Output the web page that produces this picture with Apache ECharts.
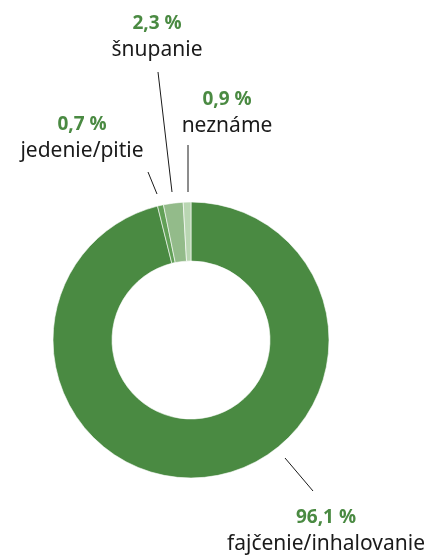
<!DOCTYPE html>
<html><head><meta charset="utf-8">
<script src="https://cdn.jsdelivr.net/npm/echarts@6/dist/echarts.min.js"></script>
<style>html,body{margin:0;padding:0;background:#fff}#c{width:435px;height:556px}</style>
</head><body><div id="c"></div>
<script>
const categories = ['fajčenie/inhalovanie', 'jedenie/pitie', 'šnupanie', 'neznáme'];
const values = [96.1, 0.7, 2.3, 0.9];
const colors = ['#4a8a42', '#62a057', '#93bb8a', '#b9d6b2'];

// label placement (text centre and leader line)
const labelPos = [
  {x: 326, y: 531, line: [[285, 458], [313, 491]]},
  {x: 82, y: 138, line: [[148, 172], [157, 194]]},
  {x: 157, y: 37, line: [[158, 72], [172, 192]]},
  {x: 227, y: 113, line: [[188, 145], [188, 192]]}
];

const fmt = v => v.toFixed(1).replace('.', ',') + ' %';

const chart = echarts.init(document.getElementById('c'), null, {renderer: 'canvas'});
chart.setOption({
  animation: false,
  series: [{
    type: 'pie',
    center: [191, 340],
    radius: [79, 138],
    startAngle: 90,
    clockwise: true,
    silent: true,
    itemStyle: {borderColor: '#fff', borderWidth: 0.6},
    data: categories.map((c, i) => ({name: c, value: values[i], itemStyle: {color: colors[i]}})),
    label: {
      show: true,
      position: 'outside',
      overflow: 'none',
      width: 300,
      formatter: p => '{v|' + fmt(p.value) + '}\n{n|' + p.name + '}',
      rich: {
        v: {fontFamily: 'Open Sans', fontWeight: 'bold', fontSize: 19, color: '#4a8a42', lineHeight: 27, align: 'center'},
        n: {fontFamily: 'Noto Sans', fontSize: 21, color: '#1a1a1a', lineHeight: 27, align: 'center'}
      }
    },
    labelLine: {show: true, lineStyle: {color: '#1a1a1a', width: 1}, length: 0, length2: 0},
    labelLayout: function (params) {
      const p = labelPos[params.dataIndex];
      return {x: p.x, y: p.y, align: 'center', verticalAlign: 'middle', labelLinePoints: [p.line[0], p.line[1], p.line[1]]};
    }
  }]
});
</script></body></html>
